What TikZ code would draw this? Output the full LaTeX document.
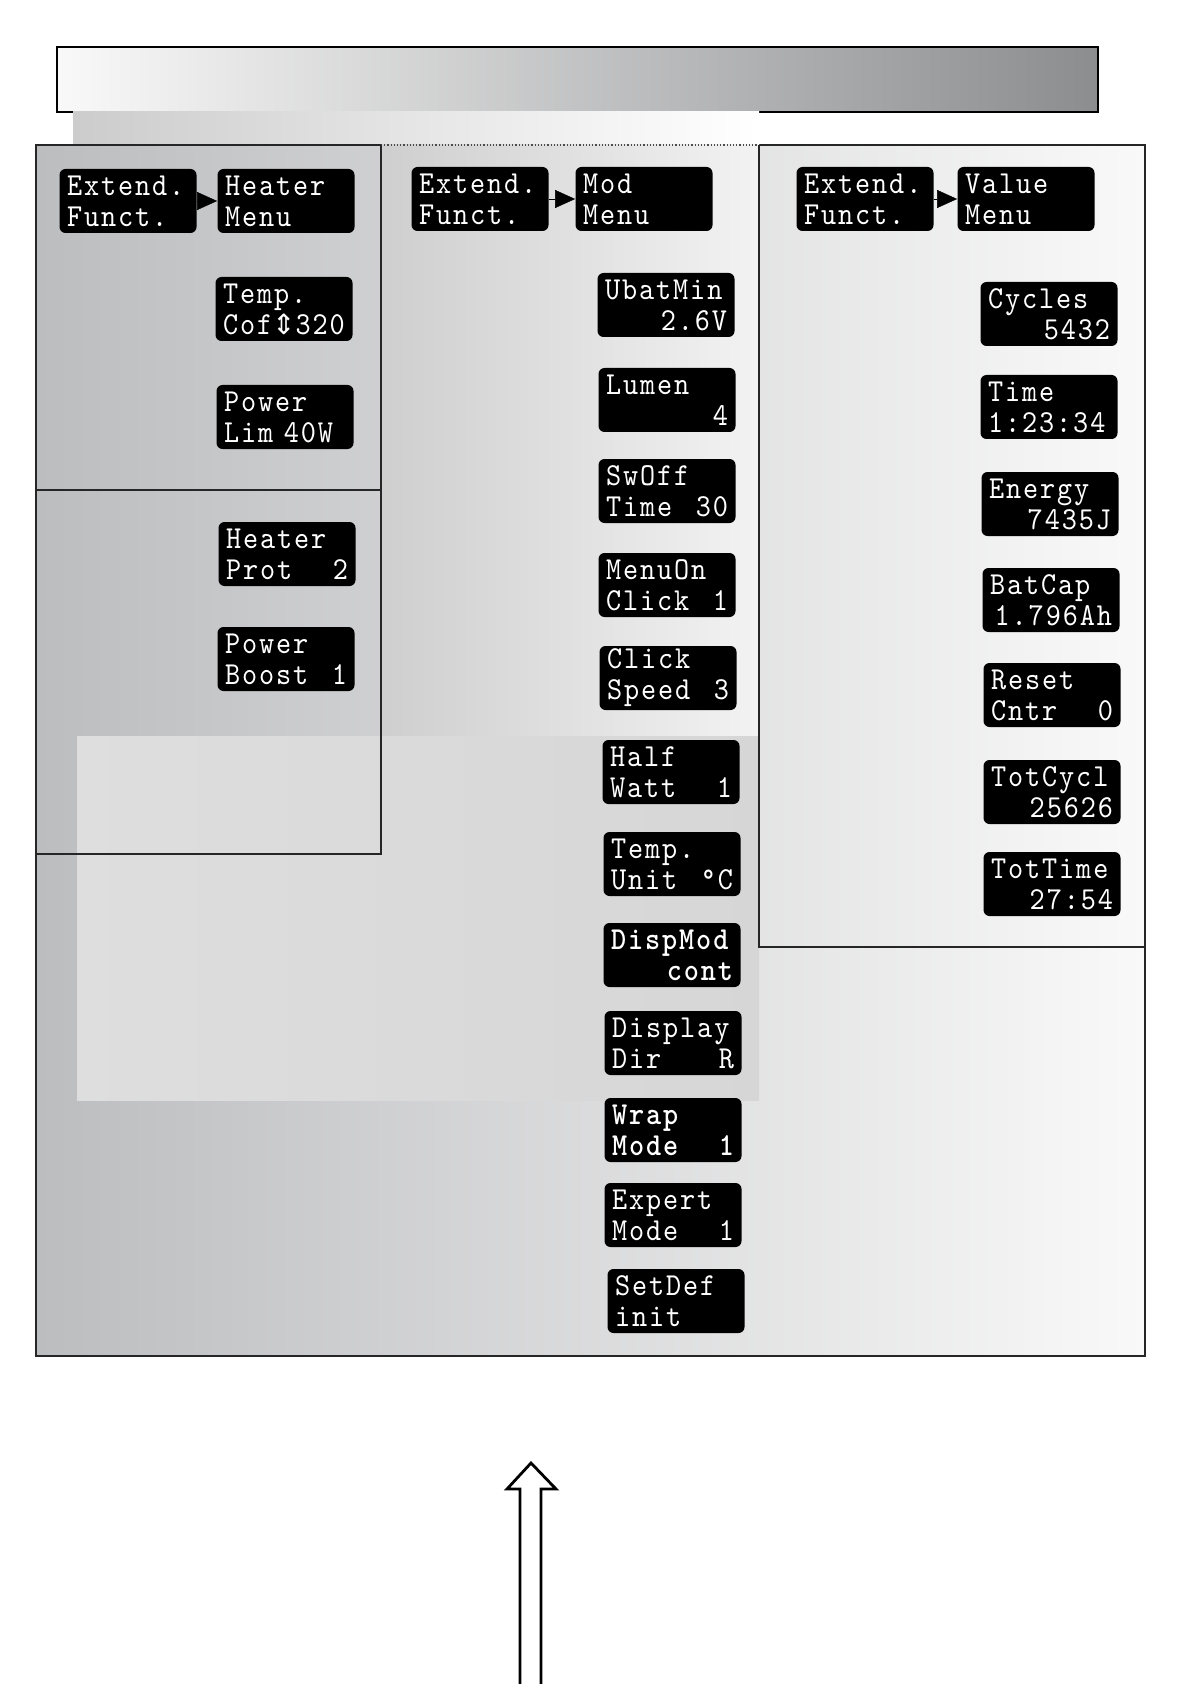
\documentclass[tikz,border=0pt]{standalone}
\usepackage{fontspec}
\usepackage{xcolor}
\usepackage{tikz}
\usetikzlibrary{arrows.meta,calc}
\newfontfamily\lcdface{lmmono10-regular.otf}[FakeStretch=0.9, LetterSpace=6, BoldFont=lmmonolt10-bold.otf]
\newfontfamily\symface{DejaVu Sans}
\definecolor{panelgray}{RGB}{188,189,191}
\definecolor{paleface}{RGB}{249,249,249}
\definecolor{bargray}{RGB}{140,141,143}
\newcommand{\lcdfont}{\fontsize{16}{15.5}\selectfont\lcdface}
\tikzset{
  screen/.style={rectangle, rounded corners=3pt, fill=black, text=white,
                 minimum width=68.5pt, minimum height=32pt, text width=61pt,
                 inner xsep=3.75pt, inner ysep=0pt, align=left, font=\lcdfont},
  pointer/.style={-{Triangle[length=10pt, width=9pt]}, line width=0.2pt},
  frame/.style={draw=black!85, line width=1.1pt},
  bigarrow/.style={draw=black, line width=1.4pt, fill=white, line join=miter},
}

\begin{document}
\begin{tikzpicture}[x=0.5pt, y=-0.5pt]
  \useasboundingbox (0,0) rectangle (1190,1684);
  % backgrounds
  \draw[line width=0.8pt, left color=paleface, right color=bargray] (57,47) rectangle (1098,112);
  \fill[left color=panelgray, right color=paleface] (36,145) rectangle (1145,1356);
  \fill[left color=black!20, right color=white] (73,112) rectangle (759,145);
  \fill[left color=black!19, right color=black!5] (381,145) rectangle (759,736);
  \fill[left color=black!13, right color=black!16] (77,736) rectangle (759,1100);
  % frames
  \draw[frame] (381,145) -- (36,145) -- (36,1356) -- (1145,1356) -- (1145,145) -- (759,145);
  \draw[black!70, densely dotted, line width=0.6pt] (381,145) -- (759,145);
  \draw[frame] (381,145) -- (381,854) -- (36,854);
  \draw[frame] (36,490) -- (381,490);
  \draw[frame] (759,145) -- (759,947) -- (1145,947);

  % heater menu
  \node[screen] (extH) at (128,201) {Extend.\\Funct.};
  \node[screen] (heatM) at (286,201) {Heater\\Menu};
  \node[screen] (tempC) at (284,309) {Temp.\\Cof{\symface\fontsize{14}{14}\selectfont ⇕}320};
  \node[screen] (powL) at (285,417) {Power\\Lim 40W};
  \node[screen] (heatP) at (287,554) {Heater\\Prot\hfill 2};
  \node[screen] (powB) at (286,659) {Power\\Boost\hfill 1};
  \draw[pointer] (extH) -- (heatM);

  % mod menu
  \node[screen] (extM) at (480,199) {Extend.\\Funct.};
  \node[screen] (modM) at (644,199) {Mod\\Menu};
  \node[screen] (ubat) at (666,305) {UbatMin\\\mbox{}\hfill 2.6V};
  \node[screen] (lumen) at (667,400) {Lumen\\\mbox{}\hfill 4};
  \node[screen] (swOff) at (667,491) {SwOff\\Time\hfill 30};
  \node[screen] (menuOn) at (667,585) {MenuOn\\Click\hfill 1};
  \node[screen] (clickSp) at (668,678) {Click\\Speed\hfill 3};
  \node[screen] (halfW) at (671,772) {Half\\Watt\hfill 1};
  \node[screen] (tempU) at (672,864) {Temp.\\Unit\hfill °C};
  \node[screen, font=\lcdfont\bfseries] (dispMod) at (672,955) {DispMod\\\mbox{}\hfill cont};
  \node[screen] (dispDir) at (673,1043) {Display\\Dir\hfill R};
  \node[screen, font=\lcdfont\bfseries] (wrap) at (673,1130) {Wrap\\Mode\hfill 1};
  \node[screen] (expert) at (673,1215) {Expert\\Mode\hfill 1};
  \node[screen] (setDef) at (676,1301) {SetDef\\init};
  \draw[pointer] (extM) -- (modM);

  % value menu
  \node[screen] (extV) at (865,199) {Extend.\\Funct.};
  \node[screen] (valM) at (1026,199) {Value\\Menu};
  \node[screen] (cycles) at (1049,314) {Cycles\\\mbox{}\hfill 5432};
  \node[screen] (time) at (1049,407) {Time\\1:23:34};
  \node[screen] (energy) at (1050,504) {Energy\\\mbox{}\hfill 7435J};
  \node[screen] (batCap) at (1051,600) {BatCap\\\mbox{}\hfill 1.796Ah};
  \node[screen] (reset) at (1052,695) {Reset\\Cntr\hfill 0};
  \node[screen] (totCycl) at (1052,792) {TotCycl\\\mbox{}\hfill 25626};
  \node[screen] (totTime) at (1052,884) {TotTime\\\mbox{}\hfill 27:54};
  \draw[pointer] (extV) -- (valM);

  % up arrow
  \draw[bigarrow] (520,1700) -- (520,1489) -- (507,1489) -- (531,1463) -- (556,1489) -- (541,1489) -- (541,1700);
\end{tikzpicture}
\end{document}
